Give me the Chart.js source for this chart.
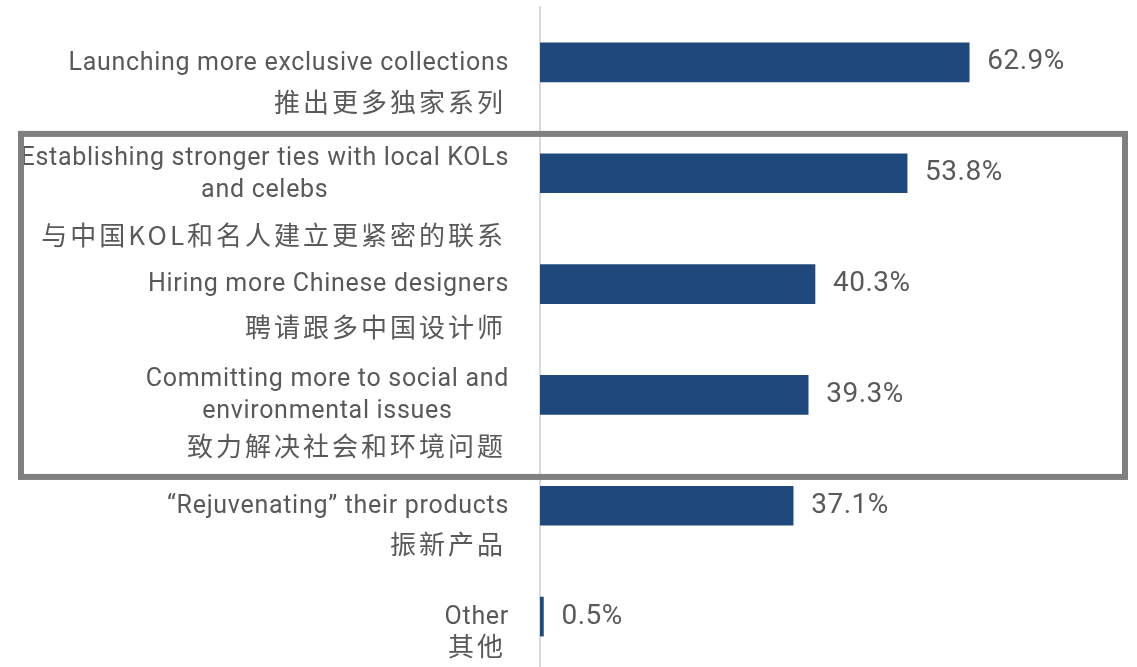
<!DOCTYPE html>
<html>
<head>
<meta charset="utf-8">
<script src="https://cdn.jsdelivr.net/npm/chart.js@4/dist/chart.umd.min.js"></script>
<style>
  html, body { margin: 0; padding: 0; background: #fff; overflow: hidden; }
  #container { position: relative; width: 1137px; height: 667px; }
</style>
</head>
<body>
<div id="container">
  <canvas id="myChart" width="1137" height="680"></canvas>
</div>
<script>
'use strict'

// survey answers, top to bottom
const englishLabels = [
    ['Launching more exclusive collections'],
    ['Establishing stronger ties with local KOLs', 'and celebs'],
    ['Hiring more Chinese designers'],
    ['Committing more to social and', 'environmental issues'],
    ['\u201CRejuvenating\u201D their products'],
    ['Other']
]
const chineseLabels = [
    '推出更多独家系列',
    '与中国KOL和名人建立更紧密的联系',
    '聘请跟多中国设计师',
    '致力解决社会和环境问题',
    '振新产品',
    '其他'
]
const shares = [62.9, 53.8, 40.3, 39.3, 37.1, 0.5]

// gap below the english lines before the chinese line, per row
const cnGap = [39, 45, 42, 34, 37, 29]
// rows 2-4 sit inside the grey frame
const framedRows = [1, 3]

const textColor = '#595959'
const barColor = '#1f497d'
const labelRight = 509

const labelsPlugin = {
    id: 'rowLabels',
    afterDatasetsDraw(chart) {
        const ctx = chart.ctx
        const yScale = chart.scales.y
        const xScale = chart.scales.x
        ctx.save()
        ctx.fillStyle = textColor
        ctx.textBaseline = 'middle'

        for (let i = 0; i < englishLabels.length; i++) {
            const yc = yScale.getPixelForValue(i)
            const lines = englishLabels[i]
            ctx.font = '25px Roboto'
            ctx.letterSpacing = '0.7px'
            let widest = 0
            for (let j = 0; j < lines.length; j++) {
                widest = Math.max(widest, ctx.measureText(lines[j]).width)
            }
            const lineH = 32
            const top = yc - (lines.length - 1) * lineH / 2 + 1
            ctx.textAlign = 'center'
            for (let j = 0; j < lines.length; j++) {
                ctx.fillText(lines[j], labelRight - widest / 2, top + j * lineH)
            }
            ctx.textAlign = 'right'
            ctx.font = '26px "Noto Sans CJK SC"'
            ctx.letterSpacing = '3px'
            const lastY = top + (lines.length - 1) * lineH
            ctx.fillText(chineseLabels[i], labelRight - 3, lastY + cnGap[i])

            // value next to the bar end
            ctx.textAlign = 'left'
            ctx.font = '28px Roboto'
            ctx.letterSpacing = '0.5px'
            const xEnd = xScale.getPixelForValue(shares[i])
            ctx.fillText(shares[i].toFixed(1) + '%', xEnd + 18, yc)
            ctx.letterSpacing = '0px'
        }

        // grey frame round the middle rows
        const fTop = yScale.getPixelForValue(framedRows[0] - 0.355)
        const fBottom = yScale.getPixelForValue(framedRows[1] + 0.74)
        ctx.strokeStyle = '#7f7f7f'
        ctx.lineWidth = 6
        ctx.strokeRect(21, fTop, 1125 - 21, fBottom - fTop)
        ctx.restore()
    }
}

const data = {
    labels: englishLabels.map(l => l.join(' ')),
    datasets: [{
        data: shares,
        backgroundColor: barColor,
        borderWidth: 0,
        barThickness: 39
    }]
}

const config = {
    type: 'bar',
    data: data,
    options: {
        indexAxis: 'y',
        responsive: false,
        animation: false,
        layout: {
            padding: { left: 540, right: 17, top: 7, bottom: 8 }
        },
        plugins: {
            legend: { display: false },
            tooltip: { enabled: false }
        },
        scales: {
            x: {
                display: false,
                min: 0,
                max: 85
            },
            y: {
                ticks: { display: false },
                grid: { display: false, drawTicks: false },
                border: { display: true, color: '#d9d9d9', width: 2 }
            }
        }
    },
    plugins: [labelsPlugin]
}

const myChart = new Chart(document.getElementById('myChart'), config)
</script>
</body>
</html>
